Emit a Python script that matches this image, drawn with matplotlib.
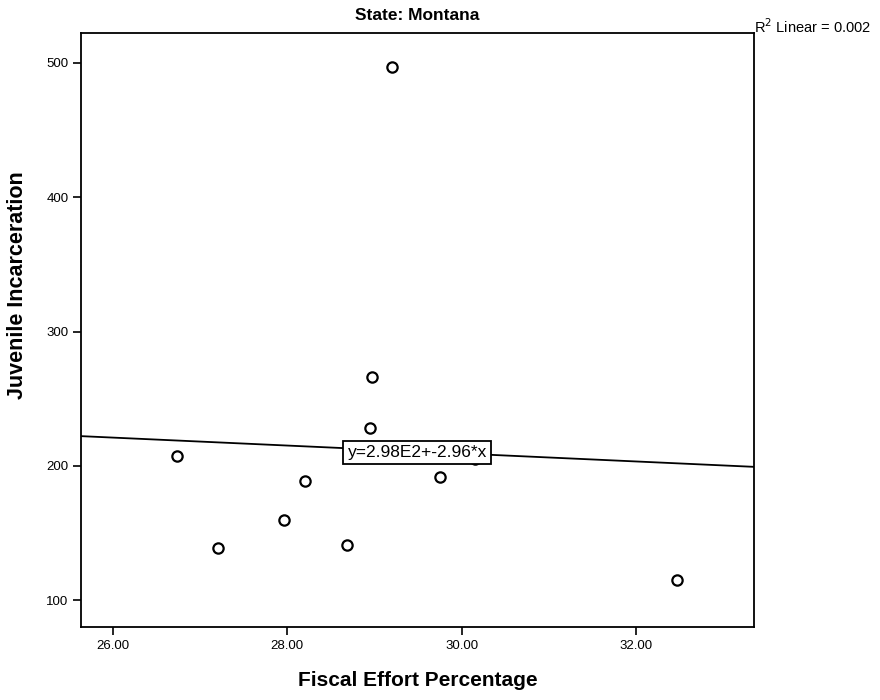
import matplotlib
matplotlib.use("Agg")
import matplotlib.pyplot as plt
import numpy as np

plt.rcParams['font.family'] = ['Liberation Sans', 'DejaVu Sans']

# Data
fiscal_effort = [26.73, 27.21, 27.96, 28.20, 28.68, 28.95, 28.97, 29.20, 29.75, 30.15, 32.47]
juvenile_incarceration = [207, 139, 160, 189, 141, 228, 266, 497, 192, 205, 115]
intercept = 298.0
slope = -2.96
r2_text = "R$^2$ Linear = 0.002"
equation_text = "y=2.98E2+-2.96*x"
x_ticks = [26, 28, 30, 32]
y_ticks = [100, 200, 300, 400, 500]

fig = plt.figure(figsize=(8.8, 7.0), dpi=100)
ax = fig.add_axes([0.092, 0.104, 0.765, 0.849])

xmin, xmax = 25.632, 33.356
ax.set_xlim(xmin, xmax)
ax.set_ylim(79.9, 522.3)

ax.scatter(fiscal_effort, juvenile_incarceration, s=55, facecolors='white',
           edgecolors='black', linewidths=1.6, zorder=3)

xs = np.array([xmin, xmax])
ax.plot(xs, intercept + slope * xs, color='black', lw=1.3, zorder=2)

ax.text(29.49, 210, equation_text, ha='center', va='center', fontsize=12.5,
        zorder=5, bbox=dict(boxstyle='square,pad=0.25', fc='white', ec='black', lw=1.3))

ax.text(1.0, 1.010, r2_text, transform=ax.transAxes, ha='left', va='center',
        fontsize=10.5)

ax.set_title("State: Montana", fontsize=12.5, fontweight='bold', pad=9)
ax.set_xlabel("Fiscal Effort Percentage", fontsize=15, fontweight='bold', labelpad=14)
ax.set_ylabel("Juvenile Incarceration", fontsize=15.5, fontweight='bold')
ax.yaxis.set_label_coords(-0.078, 0.576)

ax.set_xticks(x_ticks)
ax.set_xticklabels([f"{t:.2f}" for t in x_ticks])
ax.set_yticks(y_ticks)
ax.set_yticklabels([str(t) for t in y_ticks])
ax.tick_params(direction='out', length=6, width=1.2, labelsize=9.5, pad=3)

for sp in ax.spines.values():
    sp.set_linewidth(1.3)

fig.savefig("out.png", dpi=100)
